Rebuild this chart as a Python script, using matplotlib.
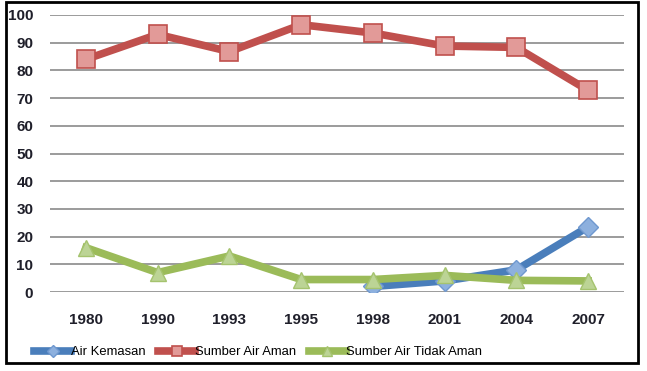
import numpy as np
import matplotlib.pyplot as plt
from matplotlib.patches import Rectangle

years = ['1980', '1990', '1993', '1995', '1998', '2001', '2004', '2007']
air_kemasan = [np.nan, np.nan, np.nan, np.nan, 2, 4, 8, 23.5]
sumber_aman = [84, 93, 86.8, 96.5, 93.5, 88.8, 88.3, 72.8]
sumber_tidak_aman = [16, 7, 13, 4.5, 4.5, 6, 4.2, 4]

fig = plt.figure(figsize=(6.47, 3.71), dpi=100)
ax = fig.add_axes([50 / 647, 1 - 292 / 371, 574 / 647, 277 / 371])

x = np.arange(len(years))
ax.plot(x, air_kemasan, color='#4A7EBB', lw=5.5, marker='D', ms=10,
        mfc='#8DB0DE', mec='#6F98CF', label='Air Kemasan', zorder=3)
ax.plot(x, sumber_aman, color='#C0504D', lw=5.5, marker='s', ms=13,
        mfc='#E29A98', mec='#C0504D', mew=1.2, label='Sumber Air Aman', zorder=3)
ax.plot(x, sumber_tidak_aman, color='#9BBB59', lw=5.5, marker='^', ms=12,
        mfc='#BCD495', mec='#A5C36E', label='Sumber Air Tidak Aman', zorder=4)

ax.set_xlim(-0.5, len(years) - 0.5)
ax.set_ylim(0, 100)
ax.set_yticks(range(0, 101, 10))
ax.set_xticks(x)
ax.set_xticklabels(years)
ax.grid(axis='y', color='#8a8a8a', lw=1.2)
ax.set_axisbelow(True)
for s in ax.spines.values():
    s.set_visible(False)
ax.tick_params(length=0, labelsize=11, labelcolor='#1f1f2a')
ax.tick_params(axis='x', pad=15)
ax.tick_params(axis='y', pad=12)
for lab in ax.get_xticklabels() + ax.get_yticklabels():
    lab.set_fontweight('bold')
    lab.set_family('Liberation Sans')

fig.legend(loc='center', bbox_to_anchor=(258 / 647, 1 - 352 / 371), ncol=3,
           frameon=False, handlelength=2.8, handletextpad=0.0, columnspacing=1.0,
           prop={'family': 'Liberation Sans', 'size': 9.4}, markerscale=0.6)

fig.patches.append(Rectangle((6 / 647, 1 - 363 / 371), 632 / 647, 361 / 371,
                             transform=fig.transFigure, fill=False,
                             edgecolor='black', lw=2))

fig.savefig('out.png', dpi=100)
